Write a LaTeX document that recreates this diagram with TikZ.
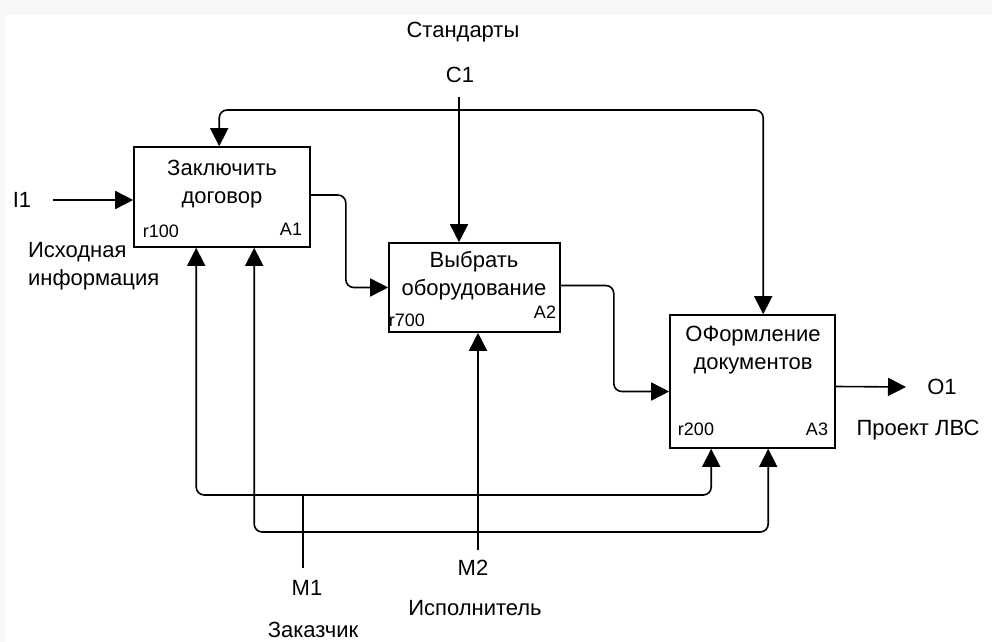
\documentclass[tikz,border=0pt]{standalone}
\usepackage{fontspec}
\setmainfont{Liberation Sans}
\usetikzlibrary{arrows.meta,calc}

\tikzset{
  box/.style={draw,line width=0.8pt,inner sep=0pt},
  ln/.style={line width=0.8pt,rounded corners=4pt},
  arr/.style={ln,-{Triangle[length=9pt,width=9pt]}},
  lbl/.style={font=\fontsize{11}{14}\selectfont,align=center},
  num/.style={font=\fontsize{9}{10}\selectfont,inner sep=0pt}
}

\begin{document}
\begin{tikzpicture}[x=0.5pt,y=-0.5pt]
        \useasboundingbox (0,0) rectangle (992,642);
        \fill[black!3] (0,0) rectangle (992,15);
        \fill[black!3] (0,0) rectangle (5,642);

        \node[box,minimum width=88pt,minimum height=50pt] (a1) at (222,197) {};
        \node[box,minimum width=85.5pt,minimum height=44.5pt] (a2) at (474.5,287.5) {};
        \node[box,minimum width=82.5pt,minimum height=66.5pt] (a3) at (752.5,381.5) {};

        \node[lbl] (t1) at (222,184) {Заключить\\договор};
        \node[lbl] (t2) at (474,276) {Выбрать\\оборудование};
        \node[lbl] (t3) at (753,350) {ОФормление\\документов};

        \node[num] (r1) at (161,231) {r100};
        \node[num] (n1) at (291,229) {A1};
        \node[num] (r2) at (407,320) {r700};
        \node[num] (n2) at (545,312) {A2};
        \node[num] (r3) at (696,429) {r200};
        \node[num] (n3) at (817,429) {A3};

        \node[lbl] (std) at (463,32) {Стандарты};
        \node[lbl] (c1) at (460,75) {C1};
        \node[lbl] (i1) at (22,200) {I1};
        \node[lbl,align=left,anchor=west] (src) at (21,266) {Исходная\\информация};
        \node[lbl] (o1) at (942,387) {O1};
        \node[lbl] (prj) at (918,430) {Проект ЛВС};
        \node[lbl] (m1) at (307,588) {M1};
        \node[lbl] (cst) at (313,630) {Заказчик};
        \node[lbl] (m2) at (473,568) {M2};
        \node[lbl] (exe) at (475,608) {Исполнитель};

        \coordinate (i1t) at (53,200);
        \coordinate (c1t) at (459,97);
        \coordinate (c1j) at (459,110);
        \coordinate (o1t) at (906,387);
        \coordinate (m1t) at (303,568);
        \coordinate (m1j) at (303,495);
        \coordinate (m2t) at (478,550);
        \coordinate (m2j) at (478,532);

        \draw[arr] (i1t) -- (i1t -| a1.west);

        \draw[arr] (c1t) -- (c1t |- a2.north);
        \draw[arr] (c1j) -| ($(a1.north west)+(86,0)$);
        \draw[arr] (c1j) -| ($(a3.north west)+(94,0)$);

        \draw[arr] ($(a1.east)+(0,-2)$) -- ++(35,0) |- (a2.west);
        \draw[arr] ($(a2.east)+(0,-2)$) -- ++(53,0) |- ($(a3.west)+(0,10)$);
        \draw[arr] ($(a3.east)+(0,5)$) -- (o1t);

        \draw[ln] (m1t) -- (m1j);
        \draw[arr] (m1j) -| ($(a1.south west)+(63,0)$);
        \draw[arr] (m1j) -| ($(a3.south west)+(42,0)$);

        \draw[arr] (m2t) -- (m2t |- a2.south);
        \draw[arr] (m2j) -| ($(a1.south west)+(121,0)$);
        \draw[arr] (m2j) -| ($(a3.south west)+(99,0)$);
\end{tikzpicture}
\end{document}
